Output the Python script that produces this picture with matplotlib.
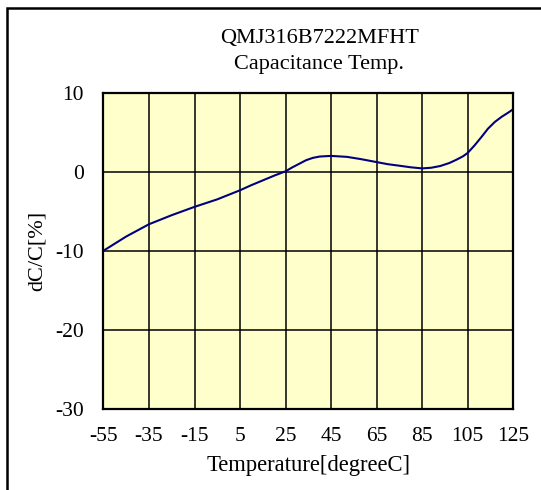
import matplotlib
matplotlib.use("Agg")
import matplotlib.pyplot as plt
import matplotlib.patches as patches

# temperature [degC] vs capacitance change [%]
temps = [-55, -45, -35, -25, -15, -5, 5, 10, 15, 20, 25, 28, 31, 34, 37,
         40, 45, 52, 58, 65, 70, 75, 80, 85, 89, 93, 97, 100, 103, 105,
         108, 111, 114, 117, 120, 123, 125]
dcc = [-10.0, -8.2, -6.65, -5.5, -4.45, -3.5, -2.35, -1.7, -1.1, -0.5,
       0.05, 0.55, 1.0, 1.45, 1.75, 1.92, 2.0, 1.88, 1.6, 1.22, 0.95, 0.76,
       0.56, 0.42, 0.5, 0.72, 1.1, 1.5, 1.95, 2.36, 3.3, 4.35, 5.45, 6.3,
       6.95, 7.5, 7.9]

xticks = [-55, -35, -15, 5, 25, 45, 65, 85, 105, 125]
yticks = [10, 0, -10, -20, -30]

plt.rcParams['font.family'] = ['Liberation Serif', 'DejaVu Serif']
plt.rcParams['axes.unicode_minus'] = False
fs = 15.5

fig = plt.figure(figsize=(5.41, 4.90), dpi=100)
ax = fig.add_axes([0.1913, 0.1659, 0.757, 0.6449])
ax.set_facecolor('#ffffcc')

ax.set_xlim(-55, 125)
ax.set_ylim(-30, 10)
ax.set_xticks(xticks)
ax.set_yticks(yticks)
ax.grid(True, color='black', linewidth=1.1)
ax.set_axisbelow(True)
for s in ax.spines.values():
    s.set_linewidth(1.6)
ax.tick_params(length=0, labelsize=fs)
ax.tick_params(axis='x', pad=13)
ax.tick_params(axis='y', pad=14)

ax.plot(temps, dcc, color='#000080', linewidth=1.5)

ax.set_xlabel('Temperature[degreeC]', fontsize=16.3, labelpad=7)
ax.set_ylabel('dC/C[%]', fontsize=16, labelpad=6)

fig.text(0.59, 0.922, 'QMJ316B7222MFHT', ha='center', va='center', fontsize=16)
fig.text(0.59, 0.869, 'Capacitance Temp.', ha='center', va='center', fontsize=16)

# outer frame
fig.patches.append(patches.Rectangle((6.5 / 541, -0.05), 1.2, 1.05 - 8.5 / 490,
                                     transform=fig.transFigure, fill=False,
                                     edgecolor='black', linewidth=1.8))

fig.savefig('out.png', dpi=100)
